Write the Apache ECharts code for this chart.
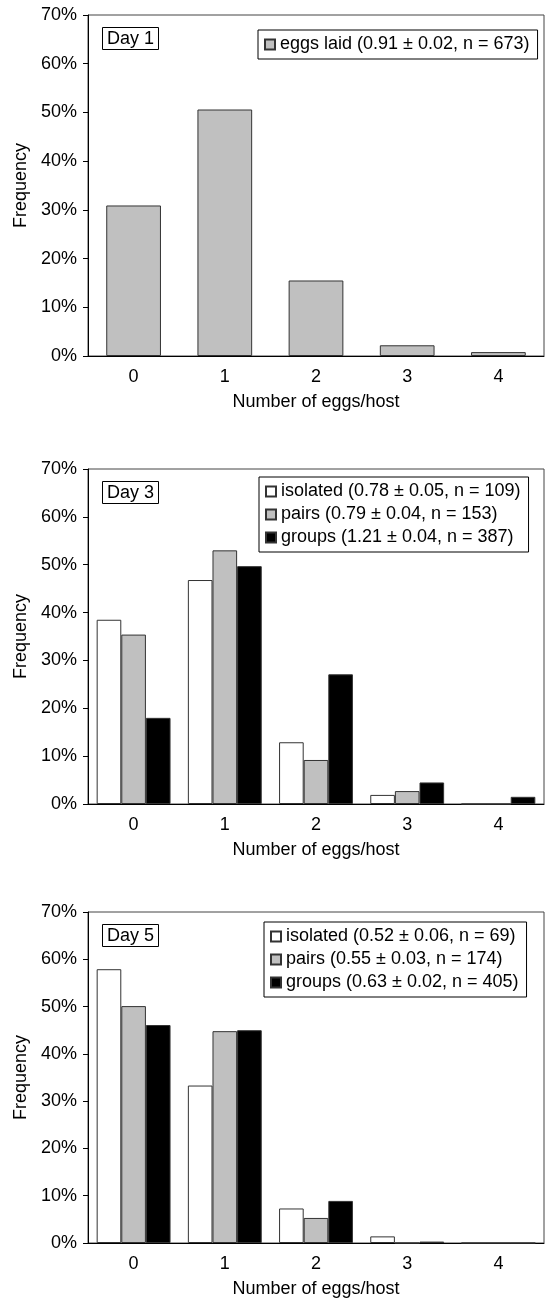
<!DOCTYPE html>
<html>
<head>
<meta charset="utf-8">
<script src="https://cdn.jsdelivr.net/npm/echarts@6/dist/echarts.min.js"></script>
<style>
  html, body { margin: 0; padding: 0; background: #fff; }
  #chart { width: 549px; height: 1301px; }
</style>
</head>
<body>
<div id="chart"></div>
<script>
const categories = ['0', '1', '2', '3', '4']
const yTicks = [0, 10, 20, 30, 40, 50, 60, 70]

// Day 1
const day1Eggs = [30.9, 50.6, 15.5, 2.2, 0.8]
// Day 3
const day3Isolated = [38.5, 46.8, 12.9, 1.9, 0]
const day3Pairs = [35.4, 53.0, 9.2, 2.7, 0]
const day3Groups = [18.0, 49.7, 27.1, 4.5, 1.5]
// Day 5
const day5Isolated = [57.9, 33.3, 7.3, 1.4, 0]
const day5Pairs = [50.1, 44.8, 5.3, 0, 0]
const day5Groups = [46.1, 45.0, 8.9, 0.3, 0]

const panelNames = ['Day 1', 'Day 3', 'Day 5']
const legendNames = [
  ['eggs laid (0.91 ± 0.02, n = 673)'],
  ['isolated (0.78 ± 0.05, n = 109)', 'pairs (0.79 ± 0.04, n = 153)', 'groups (1.21 ± 0.04, n = 387)'],
  ['isolated (0.52 ± 0.06, n = 69)', 'pairs (0.55 ± 0.03, n = 174)', 'groups (0.63 ± 0.02, n = 405)']
]

const font = 'Liberation Sans, Arial, sans-serif'
const grids = [
  { top: 15, height: 341 },
  { top: 469, height: 335 },
  { top: 912, height: 331 }
]
const legendPos = [
  { left: 258, top: 30 },
  { left: 259, top: 477 },
  { left: 264, top: 922 }
]

const chart = echarts.init(document.getElementById('chart'))

const barStyle = color => ({ color, borderColor: '#333', borderWidth: 1 })

const series = [
  { name: legendNames[0][0], type: 'bar', xAxisIndex: 0, yAxisIndex: 0, data: day1Eggs,
    barCategoryGap: '40%', itemStyle: barStyle('#c0c0c0') },
  { name: legendNames[1][0], type: 'bar', xAxisIndex: 1, yAxisIndex: 1, data: day3Isolated, itemStyle: barStyle('#ffffff') },
  { name: legendNames[1][1], type: 'bar', xAxisIndex: 1, yAxisIndex: 1, data: day3Pairs, itemStyle: barStyle('#c0c0c0') },
  { name: legendNames[1][2], type: 'bar', xAxisIndex: 1, yAxisIndex: 1, data: day3Groups, itemStyle: barStyle('#000000') },
  { name: legendNames[2][0], type: 'bar', xAxisIndex: 2, yAxisIndex: 2, data: day5Isolated, itemStyle: barStyle('#ffffff') },
  { name: legendNames[2][1], type: 'bar', xAxisIndex: 2, yAxisIndex: 2, data: day5Pairs, itemStyle: barStyle('#c0c0c0') },
  { name: legendNames[2][2], type: 'bar', xAxisIndex: 2, yAxisIndex: 2, data: day5Groups, itemStyle: barStyle('#000000') }
].map(s => Object.assign({ barGap: '0%', barCategoryGap: '19%', animation: false }, s))

chart.setOption({
  animation: false,
  textStyle: { fontFamily: font },
  title: panelNames.map((t, i) => ({
    text: t,
    left: 102,
    top: grids[i].top + 12,
    padding: [3, 5, 2, 5],
    borderColor: '#000',
    borderWidth: 1,
    textStyle: { fontSize: 18, fontWeight: 'normal', color: '#000', fontFamily: font }
  })),
  legend: legendNames.map((names, i) => ({
    data: names,
    icon: 'rect',
    orient: 'vertical',
    left: legendPos[i].left,
    top: legendPos[i].top,
    padding: [4, 8, 4, 6],
    itemGap: 2,
    itemWidth: 10,
    itemHeight: 10,
    borderColor: '#000',
    borderWidth: 1,
    selectedMode: false,
    textStyle: { fontSize: 18, color: '#000', fontFamily: font, lineHeight: 21 }
  })),
  grid: grids.map(g => ({
    left: 88, right: 5, top: g.top, height: g.height,
    show: true, borderColor: '#444', borderWidth: 1, backgroundColor: 'transparent'
  })),
  xAxis: grids.map((g, i) => ({
    type: 'category',
    gridIndex: i,
    data: categories,
    name: 'Number of eggs/host',
    nameLocation: 'middle',
    nameGap: 37,
    nameTextStyle: { fontSize: 18, color: '#000', fontFamily: font },
    axisLine: { lineStyle: { color: '#000', width: 1 } },
    axisTick: { length: 5, lineStyle: { color: '#000' } },
    axisLabel: { fontSize: 18, color: '#000', margin: 12, fontFamily: font },
    splitLine: { show: false }
  })),
  yAxis: grids.map((g, i) => ({
    type: 'value',
    gridIndex: i,
    min: yTicks[0],
    max: yTicks[yTicks.length - 1],
    interval: 10,
    name: 'Frequency',
    nameLocation: 'middle',
    nameGap: 58,
    nameTextStyle: { fontSize: 18, color: '#000', fontFamily: font },
    axisLine: { show: true, lineStyle: { color: '#000', width: 1 } },
    axisTick: { show: true, length: 5, lineStyle: { color: '#000' } },
    axisLabel: { fontSize: 18, color: '#000', margin: 11, formatter: '{value}%', fontFamily: font },
    splitLine: { show: false }
  })),
  series
})
</script>
</body>
</html>
